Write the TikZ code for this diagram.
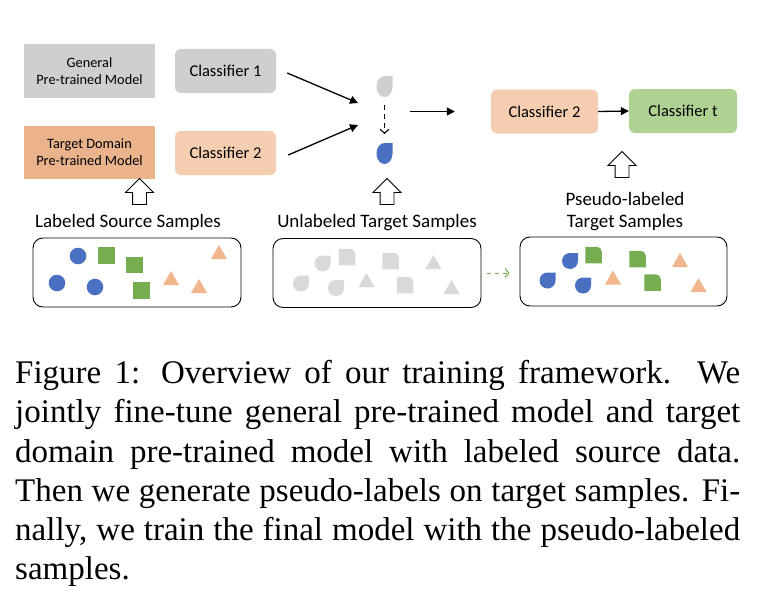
\documentclass[tikz,border=0pt]{standalone}
\usepackage{fontspec}
\setmainfont{Liberation Serif}
\newfontfamily\calibri{Carlito}
\usetikzlibrary{arrows.meta,shapes.arrows}

\definecolor{modelgray}{HTML}{D0CECE}
\definecolor{modelorange}{HTML}{EAB38B}
\definecolor{clsorange}{HTML}{F5CDB1}
\definecolor{clsgreen}{HTML}{AED292}
\definecolor{smpblue}{HTML}{4A70C1}
\definecolor{smpgreen}{HTML}{76AD50}
\definecolor{smporange}{HTML}{F1B68D}
\definecolor{smpgray}{HTML}{D9D9D9}

% sample glyphs: x, y, colour
\newcommand{\sdot}[3]{\fill[#3] (#1,#2) circle[radius=8.3pt];}
\newcommand{\ssq}[3]{\fill[#3] (#1,#2) ++(-8.25,-8.25) rectangle ++(16.5,16.5);}
\newcommand{\srsq}[3]{\fill[#3] (#1,#2) ++(-8.25,8.25) -- ++(0,-16.5) -- ++(11.5,0) arc(270:360:5) -- ++(0,11.5) -- cycle;}
\newcommand{\stri}[3]{\fill[#3] (#1,#2) ++(0,-7) -- ++(8,14) -- ++(-16,0) -- cycle;}
\newcommand{\sdrop}[4][8]{\fill[#4] (#2,#3) ++(8,0) arc(0:270:8 and #1) -- ++(8,0) -- cycle;}

\tikzset{
  model/.style={rectangle, inner sep=0pt, minimum width=131pt, minimum height=53pt,
    align=center, font=\calibri\fontsize{14.3}{17}\selectfont},
  clsbox/.style={rectangle, rounded corners=6pt, inner sep=0pt, minimum width=101pt,
    minimum height=44pt, font=\calibri\fontsize{16.5}{20}\selectfont},
  pool/.style={draw, line width=0.9pt, rounded corners=10pt, minimum width=208pt, minimum height=69pt},
  upar/.style={single arrow, draw, fill=white, line width=0.8pt, shape border rotate=90,
    inner sep=6.5pt, minimum width=27pt, minimum height=26pt, single arrow head extend=7pt},
  lbl/.style={inner sep=0pt, align=center, font=\calibri\fontsize{19}{22.5}\selectfont},
  arr/.style={line width=1.3pt, -{Triangle[length=8pt,width=8pt]}},
  darr/.style={line width=1.1pt, dash pattern=on 5pt off 4pt, -{Straight Barb[length=4pt,width=9pt]}}
}

\begin{document}
\begin{tikzpicture}[x=1pt,y=-1pt]
\useasboundingbox (0,0) rectangle (768,602);

% models and classifiers
\node[model, fill=modelgray] (gen) at (89.5,71) {General\\Pre-trained Model};
\node[model, fill=modelorange] (tgt) at (89.5,152) {Target Domain\\Pre-trained Model};
\node[clsbox, fill=modelgray] (cls1) at (225.5,71) {Classifier 1};
\node[clsbox, fill=clsorange] (cls2) at (225.5,153) {Classifier 2};
\node[clsbox, fill=clsorange, minimum width=107pt] (cls2r) at (544.5,111.5) {Classifier 2};
\node[clsbox, fill=clsgreen, minimum width=108pt] (clst) at (683,111) {Classifier t};

% pseudo-labelling in the middle
\coordinate (dg) at (384.5,86.5);
\coordinate (db) at (384.5,153.5);
\sdrop[10.5]{384.5}{86.5}{modelgray}
\sdrop[10.5]{384.5}{153.5}{smpblue}
\coordinate (m1) at (358,103);
\coordinate (m2) at (358,125);
\draw[arr] ([shift={(11,2)}]cls1.east) -- (m1);
\draw[arr] ([shift={(12,2)}]cls2.east) -- (m2);
\draw[darr, shorten <=18.5pt, shorten >=19.5pt] (dg) -- (db);
\draw[arr] ([xshift=-81pt]cls2r.west) -- ([xshift=-36pt]cls2r.west);
\draw[arr] (cls2r.east) -- (clst.west);

% sample pools
\node[pool] (bsrc) at (137,272.5) {};
\node[pool] (butgt) at (377,273) {};
\node[pool, minimum width=207pt] (bpseudo) at (623.5,271.5) {};
\node[lbl, anchor=base] (lsrc) at (128,227) {Labeled Source Samples};
\node[lbl, anchor=base] (lutgt) at (377,227) {Unlabeled Target Samples};
\node[lbl] (lpseudo) at (625,211.5) {Pseudo-labeled\\Target Samples};
\node[upar] (up1) at (139.5,195) {};
\node[upar] (up2) at (387,195) {};
\node[upar] (up3) at (622,168) {};
\draw[darr, draw=smpgreen, line width=1pt, dash pattern=on 4pt off 4pt, shorten <=6pt, shorten >=10pt]
  (butgt.east) -- (butgt.east -| bpseudo.west);

\foreach \x/\y in {78/256, 57/283, 95/287} {\sdot{\x}{\y}{smpblue}}
\foreach \x/\y in {106.5/255.5, 134.5/265, 141.5/290.5} {\ssq{\x}{\y}{smpgreen}}
\foreach \x/\y in {219/252, 171/278, 199/286} {\stri{\x}{\y}{smporange}}

\foreach \x/\y in {322.5/263.5, 301/283.5, 336/288} {\sdrop{\x}{\y}{smpgray}}
\foreach \x/\y in {347/257, 390.5/261, 405/285} {\srsq{\x}{\y}{smpgray}}
\foreach \x/\y in {433.5/262, 366.5/280, 451.5/287} {\stri{\x}{\y}{smpgray}}

\foreach \x/\y in {570/261, 547.5/280.5, 583/285.5} {\sdrop{\x}{\y}{smpblue}}
\foreach \x/\y in {593.5/255, 637.5/259, 652.5/282.5} {\srsq{\x}{\y}{smpgreen}}
\foreach \x/\y in {680/260, 613/277.5, 698.5/285} {\stri{\x}{\y}{smporange}}

% caption
\node[anchor=north west, inner sep=0pt, text width=725pt, align=justify,
  font=\fontsize{33}{39.3}\selectfont] (cap) at (15,360)
  {Figure 1:  Overview of our training framework.  We\linebreak
   jointly fine-tune general pre-trained model and target\linebreak
   domain pre-trained model with labeled source data.\linebreak
   Then we generate pseudo-labels on target samples. Fi-\linebreak
   nally, we train the final model with the pseudo-labeled\linebreak
   samples.};
\end{tikzpicture}
\end{document}
